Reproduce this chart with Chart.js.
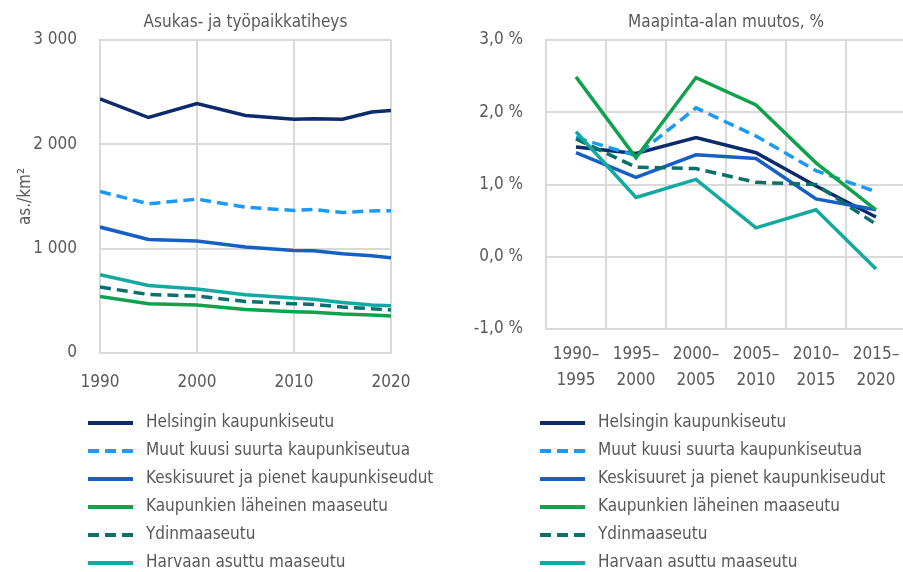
<!DOCTYPE html>
<html>
<head>
<meta charset="utf-8">
<script src="https://cdn.jsdelivr.net/npm/chart.js@4.4.1/dist/chart.umd.min.js"></script>
<style>
  html, body { margin: 0; padding: 0; background: #fff; overflow: hidden; width: 903px; height: 572px; }
  canvas { position: absolute; top: 0; }
  #densityChart { left: 0; }
  #areaChart { left: 451px; }
</style>
</head>
<body>
<canvas id="densityChart" width="451" height="572"></canvas>
<canvas id="areaChart" width="456" height="572"></canvas>
<script>
// ---- data ----
const seriesNames = [
    "Helsingin kaupunkiseutu",
    "Muut kuusi suurta kaupunkiseutua",
    "Keskisuuret ja pienet kaupunkiseudut",
    "Kaupunkien läheinen maaseutu",
    "Ydinmaaseutu",
    "Harvaan asuttu maaseutu"
];

// Asukas- ja työpaikkatiheys, as./km2
const years = [1990, 1995, 2000, 2005, 2010, 2012, 2015, 2018, 2020];
const helsinkiDensity = [2436, 2257, 2391, 2276, 2241, 2245, 2241, 2310, 2324];
const suuretDensity   = [1548, 1430, 1475, 1398, 1366, 1375, 1347, 1362, 1363];
const pienetDensity   = [1207, 1088, 1073, 1015, 983, 980, 951, 932, 913];
const laheinenDensity = [542, 472, 460, 418, 396, 390, 374, 365, 354];
const ydinDensity     = [632, 561, 546, 494, 472, 465, 440, 425, 412];
const harvaanDensity  = [750, 648, 613, 558, 527, 515, 485, 460, 453];

// Maapinta-alan muutos, %
const periods = [
    ["1990–", "1995"], ["1995–", "2000"], ["2000–", "2005"],
    ["2005–", "2010"], ["2010–", "2015"], ["2015–", "2020"]
];
const helsinkiChange = [1.52, 1.43, 1.65, 1.44, 0.98, 0.55];
const suuretChange   = [1.65, 1.40, 2.06, 1.67, 1.19, 0.90];
const pienetChange   = [1.44, 1.10, 1.41, 1.36, 0.80, 0.65];
const laheinenChange = [2.49, 1.37, 2.48, 2.10, 1.30, 0.65];
const ydinChange     = [1.63, 1.24, 1.22, 1.03, 1.00, 0.45];
const harvaanChange  = [1.73, 0.82, 1.07, 0.40, 0.65, -0.17];

// ---- styles ----
const seriesColors = ["#0c2a6c", "#1a9af5", "#1660c4", "#0fa24c", "#0b6f6b", "#12aaa0"];
const seriesDashes = [[], [11, 6], [], [], [11, 6], []];
const FONT = "'DejaVu Sans Condensed', 'Liberation Sans Narrow', sans-serif";
const TEXT = "#595959";
const GRID = "#d9d9d9";
const FS = 17;

Chart.defaults.font.family = FONT;
Chart.defaults.color = TEXT;

function makeDatasets(valueLists) {
    return valueLists.map((vals, i) => ({
        label: seriesNames[i],
        data: vals,
        borderColor: seriesColors[i],
        backgroundColor: seriesColors[i],
        borderDash: seriesDashes[i],
        borderWidth: 3.5,
        pointRadius: 0,
        tension: 0,
        order: valueLists.length - i
    }));
}

// legend drawn as one column under the plot
const lineLegend = {
    id: "lineLegend",
    afterDraw(chart, args, opts) {
        const ctx = chart.ctx;
        ctx.save();
        ctx.font = opts.size + "px " + FONT;
        ctx.fillStyle = TEXT;
        ctx.textBaseline = "middle";
        chart.data.datasets.forEach((ds, i) => {
            const y = opts.top + i * opts.step;
            ctx.beginPath();
            ctx.setLineDash(ds.borderDash || []);
            ctx.strokeStyle = ds.borderColor;
            ctx.lineWidth = 4;
            ctx.moveTo(opts.x, y);
            ctx.lineTo(opts.x + 45, y);
            ctx.stroke();
            ctx.setLineDash([]);
            ctx.fillText(ds.label, opts.x + 58, y);
        });
        ctx.restore();
    }
};

const thousands = v => String(v).replace(/\B(?=(\d{3})+(?!\d))/g, "\u00a0");
const percent = v => v.toFixed(1).replace(".", ",") + "\u00a0%";

new Chart(document.getElementById("densityChart"), {
    type: "line",
    data: {
        labels: years,
        datasets: makeDatasets([
            helsinkiDensity, suuretDensity, pienetDensity,
            laheinenDensity, ydinDensity, harvaanDensity
        ]).map(ds => ({ ...ds, data: ds.data.map((v, j) => ({ x: years[j], y: v })) }))
    },
    plugins: [lineLegend],
    options: {
        responsive: false,
        animation: false,
        layout: { padding: { left: 0, right: 60, top: 0, bottom: 0 } },
        plugins: {
            legend: { display: false },
            tooltip: { enabled: false },
            title: {
                display: true,
                text: "Asukas- ja työpaikkatiheys",
                fullSize: false,
                color: TEXT,
                font: { size: FS, weight: "normal", lineHeight: 24 / FS },
                padding: { top: 11, bottom: 5 }
            },
            lineLegend: { x: 88, top: 423, step: 28, size: FS }
        },
        scales: {
            x: {
                type: "linear",
                min: 1990,
                max: 2020,
                ticks: { stepSize: 10, padding: 19, callback: v => String(v), font: { size: FS } },
                grid: { color: GRID, lineWidth: 2, drawTicks: false },
                border: { color: GRID, width: 2 },
                afterFit: s => { s.height = 219; }
            },
            y: {
                min: 0,
                max: 3000,
                ticks: { stepSize: 1000, padding: 23, callback: thousands, font: { size: FS } },
                grid: { color: GRID, lineWidth: 2, drawTicks: false },
                border: { color: GRID, width: 2 },
                title: {
                    display: true,
                    text: "as./km²",
                    color: TEXT,
                    font: { size: FS },
                    padding: { top: 15, bottom: 0 }
                },
                afterFit: s => { s.width = 100; }
            }
        }
    }
});

new Chart(document.getElementById("areaChart"), {
    type: "line",
    data: {
        labels: periods,
        datasets: makeDatasets([
            helsinkiChange, suuretChange, pienetChange,
            laheinenChange, ydinChange, harvaanChange
        ])
    },
    plugins: [lineLegend],
    options: {
        responsive: false,
        animation: false,
        layout: { padding: { left: 0, right: 1, top: 0, bottom: 0 } },
        plugins: {
            legend: { display: false },
            tooltip: { enabled: false },
            title: {
                display: true,
                text: "Maapinta-alan muutos, %",
                fullSize: false,
                color: TEXT,
                font: { size: FS, weight: "normal", lineHeight: 24 / FS },
                padding: { top: 11, bottom: 5 }
            },
            lineLegend: { x: 89, top: 423, step: 28, size: FS }
        },
        scales: {
            x: {
                offset: true,
                ticks: { padding: 13, font: { size: FS, lineHeight: 26 / FS }, maxRotation: 0, autoSkip: false },
                grid: { color: GRID, lineWidth: 2, drawTicks: false, offset: true },
                border: { color: GRID, width: 2 },
                afterFit: s => { s.height = 243; s.paddingLeft = 0; s.paddingRight = 0; }
            },
            y: {
                min: -1,
                max: 3,
                ticks: { stepSize: 1, padding: 23, callback: percent, font: { size: FS } },
                grid: { color: GRID, lineWidth: 2, drawTicks: false },
                border: { color: GRID, width: 2 },
                afterFit: s => { s.width = 95; }
            }
        }
    }
});
</script>
</body>
</html>
